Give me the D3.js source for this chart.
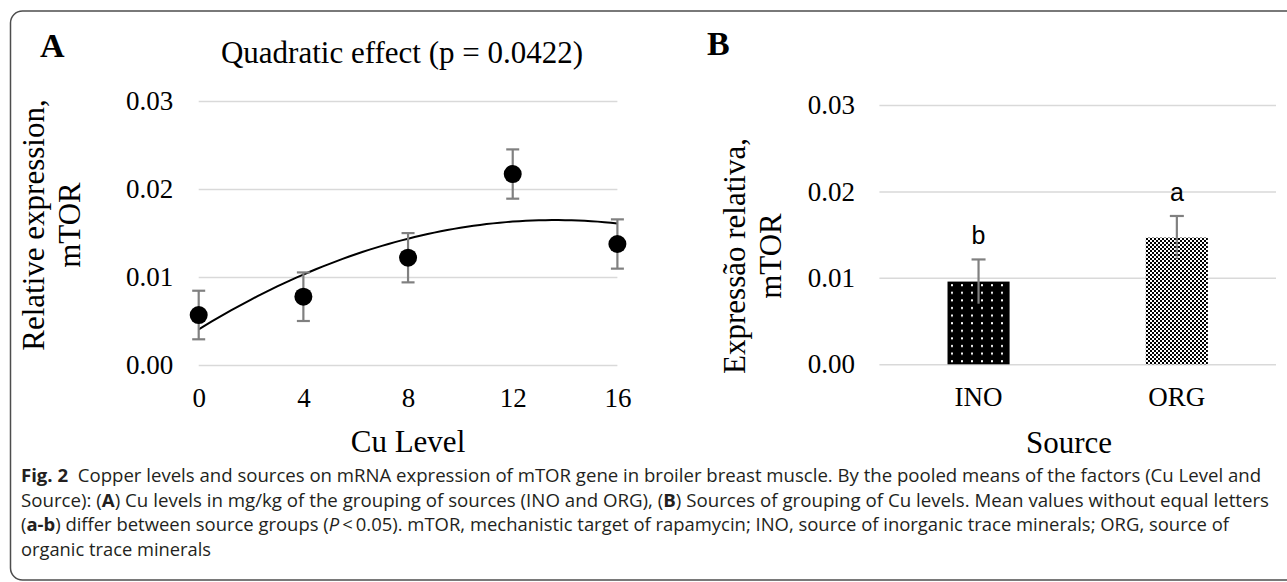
<!DOCTYPE html>
<html><head><meta charset="utf-8">
<script src="https://cdn.jsdelivr.net/npm/d3@7"></script>
<style>body{margin:0;background:#fff}svg{display:block}</style>
</head><body>
<svg id="fig" width="1287" height="582"></svg>
<script>
// ---------- data ----------
const cuLevels = [0, 4, 8, 12, 16];
const cuMeans = [0.00568, 0.00776, 0.01219, 0.0217, 0.01375];
const cuErrors = [0.00276, 0.00276, 0.0028, 0.0028, 0.0028];
const sources = ["INO", "ORG"];
const sourceMeans = [0.00957, 0.01466];
const sourceErrors = [0.00256, 0.0025];
const sourceLetters = ["b", "a"];
const yTickValues = [0, 0.01, 0.02, 0.03];
const xTickValues = [0, 4, 8, 12, 16];
const titleA = "Quadratic effect (p = 0.0422)";
const yTitleA = ["Relative expression,", "mTOR"];
const yTitleB = ["Expressão relativa,", "mTOR"];
const xTitleA = "Cu Level";
const xTitleB = "Source";
const captionLines = [
  [["Fig. 2", "b"], ["  Copper levels and sources on mRNA expression of mTOR gene in broiler breast muscle. By the pooled means of the factors (Cu Level and", ""]],
  [["Source): (", ""], ["A", "b"], [") Cu levels in mg/kg of the grouping of sources (INO and ORG), (", ""], ["B", "b"], [") Sources of grouping of Cu levels. Mean values without equal letters", ""]],
  [["(", ""], ["a-b", "b"], [") differ between source groups (", ""], ["P", "i"], ["\u2009<\u20090.05). mTOR, mechanistic target of rapamycin; INO, source of inorganic trace minerals; ORG, source of", ""]],
  [["organic trace minerals", ""]]
];

// ---------- setup ----------
const svg = d3.select("#fig");
const serif = '"Liberation Serif","Times New Roman",serif';
const sans = '"Open Sans","Noto Sans",sans-serif';
svg.append("rect").attr("width", 1287).attr("height", 582).attr("fill", "#fff");

// frame
svg.append("rect").attr("x", 10.5).attr("y", 11).attr("width", 1300).attr("height", 569)
  .attr("rx", 12).attr("fill", "none").attr("stroke", "#4d4d4d").attr("stroke-width", 1.5);

const defs = svg.append("defs");
const pDots = defs.append("pattern").attr("id", "dots").attr("patternUnits", "userSpaceOnUse")
  .attr("width", 10).attr("height", 7.6).attr("x", 947).attr("y", 0);
pDots.append("rect").attr("width", 10).attr("height", 7.6).attr("fill", "#000");
pDots.append("rect").attr("x", 4).attr("y", 3).attr("width", 2).attr("height", 2).attr("fill", "#fff");
const pChk = defs.append("pattern").attr("id", "chk").attr("patternUnits", "userSpaceOnUse")
  .attr("width", 4).attr("height", 4);
pChk.append("rect").attr("width", 4).attr("height", 4).attr("fill", "#fff");
pChk.append("rect").attr("width", 2).attr("height", 2).attr("fill", "#000");
pChk.append("rect").attr("x", 2).attr("y", 2).attr("width", 2).attr("height", 2).attr("fill", "#000");

function styleAxis(g) {
  g.select(".domain").remove();
  g.selectAll(".tick line").attr("stroke", "#d9d9d9").attr("stroke-width", 1.5);
  g.selectAll(".tick text").attr("font-family", serif).attr("font-size", 27).attr("fill", "#000");
}
function rotTitle(lines, x1, x2, yc) {
  [x1, x2].forEach((x, i) => {
    svg.append("text").attr("transform", `translate(${x},${yc}) rotate(-90)`)
      .attr("text-anchor", "middle").attr("font-family", serif).attr("font-size", 31)
      .attr("fill", "#000").text(lines[i]);
  });
}

// ---------- Panel A ----------
const xA = d3.scaleLinear().domain([0, 16]).range([198.7, 617.4]);
const yA = d3.scaleLinear().domain([0, 0.03]).range([365, 101]);

svg.append("g").attr("transform", `translate(${xA(0)},0)`)
  .call(d3.axisLeft(yA).tickValues(yTickValues).tickFormat(d3.format(".2f"))
    .tickSize(-(xA(16) - xA(0))).tickPadding(25.5))
  .call(styleAxis);
svg.append("g").attr("transform", `translate(0,${yA(0)})`)
  .call(d3.axisBottom(xA).tickValues(xTickValues).tickSize(0).tickPadding(23))
  .call(g => { styleAxis(g); g.selectAll(".tick line").remove(); });

// quadratic least-squares trend from the means
function quadFit(xs, ys) {
  const S = [0, 0, 0, 0, 0], T = [0, 0, 0];
  xs.forEach((x, i) => { for (let k = 0; k < 5; k++) S[k] += x ** k; for (let k = 0; k < 3; k++) T[k] += ys[i] * x ** k; });
  const M = [[S[0], S[1], S[2], T[0]], [S[1], S[2], S[3], T[1]], [S[2], S[3], S[4], T[2]]];
  for (let c = 0; c < 3; c++) {
    for (let r = c + 1; r < 3; r++) { const f = M[r][c] / M[c][c]; for (let k = c; k < 4; k++) M[r][k] -= f * M[c][k]; }
  }
  const b = [0, 0, 0];
  for (let r = 2; r >= 0; r--) { let s = M[r][3]; for (let k = r + 1; k < 3; k++) s -= M[r][k] * b[k]; b[r] = s / M[r][r]; }
  return x => b[0] + b[1] * x + b[2] * x * x;
}
const fit = quadFit(cuLevels, cuMeans);
const trendX = d3.range(0, 16.001, 0.25);
svg.append("path").datum(trendX)
  .attr("d", d3.line().x(d => xA(d)).y(d => yA(fit(d))))
  .attr("fill", "none").attr("stroke", "#000").attr("stroke-width", 2);

const ptsA = cuLevels.map((x, i) => ({ x, m: cuMeans[i], e: cuErrors[i] }));
const eb = svg.append("g").attr("stroke", "#808080").attr("stroke-width", 2.2);
eb.selectAll(".v").data(ptsA).join("line").attr("x1", d => xA(d.x)).attr("x2", d => xA(d.x))
  .attr("y1", d => yA(d.m - d.e)).attr("y2", d => yA(d.m + d.e));
eb.selectAll(".t").data(ptsA).join("line").attr("x1", d => xA(d.x) - 6.5).attr("x2", d => xA(d.x) + 6.5)
  .attr("y1", d => yA(d.m + d.e)).attr("y2", d => yA(d.m + d.e));
eb.selectAll(".b").data(ptsA).join("line").attr("x1", d => xA(d.x) - 6.5).attr("x2", d => xA(d.x) + 6.5)
  .attr("y1", d => yA(d.m - d.e)).attr("y2", d => yA(d.m - d.e));
svg.append("g").selectAll("ellipse").data(ptsA).join("ellipse")
  .attr("cx", d => xA(d.x)).attr("cy", d => yA(d.m)).attr("rx", 9).attr("ry", 9).attr("fill", "#000");

svg.append("text").attr("x", 40).attr("y", 57).attr("font-family", serif).attr("font-weight", "bold")
  .attr("font-size", 34).text("A");
svg.append("text").attr("x", 402).attr("y", 63).attr("text-anchor", "middle").attr("font-family", serif)
  .attr("font-size", 31).text(titleA);
svg.append("text").attr("x", 408).attr("y", 452).attr("text-anchor", "middle").attr("font-family", serif)
  .attr("font-size", 31).text(xTitleA);
rotTitle(yTitleA, 44, 80, 225);

// ---------- Panel B ----------
const xB = d3.scaleBand().domain(sources).range([879.4, 1276]).paddingInner(0.687).paddingOuter(0.3435);
const yB = d3.scaleLinear().domain([0, 0.03]).range([364.3, 105]);

svg.append("g").attr("transform", `translate(879.4,0)`)
  .call(d3.axisLeft(yB).tickValues(yTickValues).tickFormat(d3.format(".2f"))
    .tickSize(-(1276 - 879.4)).tickPadding(24.5))
  .call(styleAxis);
svg.append("g").attr("transform", `translate(0,${yB(0)})`)
  .call(d3.axisBottom(xB).tickSize(0).tickPadding(23))
  .call(g => { styleAxis(g); g.selectAll(".tick line").remove(); });

const barsB = sources.map((s, i) => ({ s, m: sourceMeans[i], e: sourceErrors[i], l: sourceLetters[i], fill: i === 0 ? "url(#dots)" : "url(#chk)" }));
svg.append("g").selectAll("rect").data(barsB).join("rect")
  .attr("x", d => xB(d.s)).attr("width", xB.bandwidth())
  .attr("y", d => yB(d.m)).attr("height", d => yB(0) - yB(d.m)).attr("fill", d => d.fill);
const ebB = svg.append("g").attr("stroke", "#808080").attr("stroke-width", 2.2);
const cx = d => xB(d.s) + xB.bandwidth() / 2;
ebB.selectAll(".v").data(barsB).join("line").attr("x1", cx).attr("x2", cx)
  .attr("y1", d => yB(d.m - d.e)).attr("y2", d => yB(d.m + d.e));
ebB.selectAll(".t").data(barsB).join("line").attr("x1", d => cx(d) - 7).attr("x2", d => cx(d) + 7)
  .attr("y1", d => yB(d.m + d.e)).attr("y2", d => yB(d.m + d.e));
svg.append("g").selectAll("text").data(barsB).join("text")
  .attr("x", cx).attr("y", d => yB(d.m + d.e) - 15).attr("text-anchor", "middle")
  .attr("font-family", '"Liberation Sans",Arial,sans-serif').attr("font-size", 25).text(d => d.l);

svg.append("text").attr("x", 707).attr("y", 55).attr("font-family", serif).attr("font-weight", "bold")
  .attr("font-size", 34).text("B");
svg.append("text").attr("x", 1069).attr("y", 453).attr("text-anchor", "middle").attr("font-family", serif)
  .attr("font-size", 31).text(xTitleB);
rotTitle(yTitleB, 745, 781, 256);

// ---------- caption ----------
const capY = [482, 507, 531, 556];
const capLen = [1240, 1248, 1208, 190];
captionLines.forEach((parts, i) => {
  const t = svg.append("text").attr("x", 21).attr("y", capY[i]).attr("font-family", sans)
    .attr("font-size", 18.5).attr("fill", "#231f20").attr("xml:space", "preserve").style("white-space", "pre");
  if (capLen[i]) t.attr("textLength", capLen[i]).attr("lengthAdjust", "spacingAndGlyphs");
  parts.forEach(([s, f]) => {
    const sp = t.append("tspan").text(s);
    if (f === "b") sp.attr("font-weight", "bold");
    if (f === "i") sp.attr("font-style", "italic");
  });
});
</script>
</body></html>
